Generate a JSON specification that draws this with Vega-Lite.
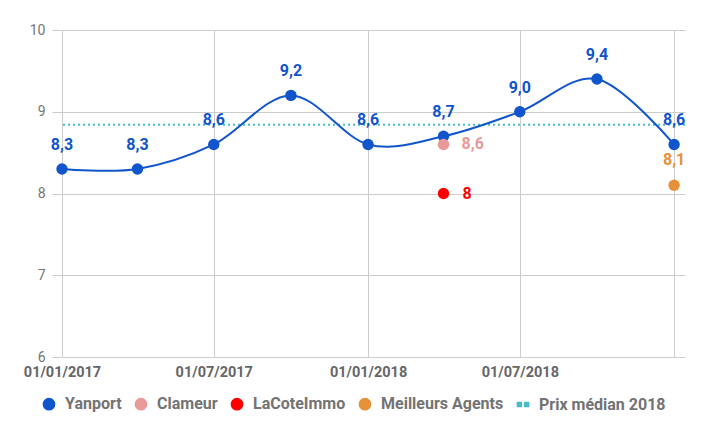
{
  "$schema": "https://vega.github.io/schema/vega-lite/v6.json",
  "width": 623,
  "height": 327,
  "autosize": "none",
  "padding": {"left": 62, "top": 30, "right": 21, "bottom": 79},
  "background": "white",
  "config": {
    "font": "Roboto",
    "view": {"stroke": null},
    "locale": {
      "number": {"decimal": ",", "thousands": " ", "grouping": [3], "currency": ["", " €"]}
    }
  },
  "datasets": {
    "serie": [
      {"date": "2017-01-01", "source": "Yanport", "valeur": 8.3},
      {"date": "2017-04-01", "source": "Yanport", "valeur": 8.3},
      {"date": "2017-07-01", "source": "Yanport", "valeur": 8.6},
      {"date": "2017-10-01", "source": "Yanport", "valeur": 9.2},
      {"date": "2018-01-01", "source": "Yanport", "valeur": 8.6},
      {"date": "2018-04-01", "source": "Yanport", "valeur": 8.7},
      {"date": "2018-07-01", "source": "Yanport", "valeur": 9.0},
      {"date": "2018-10-01", "source": "Yanport", "valeur": 9.4},
      {"date": "2019-01-01", "source": "Yanport", "valeur": 8.6},
      {"date": "2018-04-01", "source": "Clameur", "valeur": 8.6},
      {"date": "2018-04-01", "source": "LaCoteImmo", "valeur": 8.0},
      {"date": "2019-01-01", "source": "Meilleurs Agents", "valeur": 8.1}
    ],
    "median": [
      {"source": "Prix médian 2018", "valeur": 8.84}
    ]
  },
  "encoding": {
    "x": {
      "field": "date",
      "type": "temporal",
      "title": null,
      "scale": {
        "type": "utc",
        "domain": [
          {"year": 2017, "month": 1, "date": 1, "utc": true},
          {"year": 2019, "month": 1, "date": 14, "utc": true}
        ]
      },
      "axis": {
        "values": [
          {"year": 2017, "month": 1, "date": 1, "utc": true},
          {"year": 2017, "month": 7, "date": 1, "utc": true},
          {"year": 2018, "month": 1, "date": 1, "utc": true},
          {"year": 2018, "month": 7, "date": 1, "utc": true},
          {"year": 2019, "month": 1, "date": 1, "utc": true}
        ],
        "labelExpr": "datum.value > utc(2018, 10, 1) ? '' : utcFormat(datum.value, '%d/%m/%Y')",
        "grid": true,
        "gridColor": "#cccccc",
        "domain": false,
        "ticks": false,
        "labelPadding": 8,
        "labelFontSize": 14.5,
        "labelFontWeight": "bold",
        "labelColor": "#666666",
        "labelFlush": false
      }
    },
    "y": {
      "field": "valeur",
      "type": "quantitative",
      "title": null,
      "scale": {"domain": [6, 10], "nice": false, "zero": false},
      "axis": {
        "values": [6, 7, 8, 9, 10],
        "format": "d",
        "grid": true,
        "gridColor": "#cccccc",
        "domain": false,
        "ticks": true,
        "tickSize": 10,
        "tickColor": "#cccccc",
        "labelPadding": 7,
        "labelFontSize": 14,
        "labelColor": "#757575"
      }
    }
  },
  "layer": [
    {
      "data": {"name": "median"},
      "mark": {"type": "rule", "strokeDash": [2, 3], "strokeWidth": 2},
      "encoding": {
        "x": null,
        "color": {
          "field": "source",
          "type": "nominal",
          "scale": {
            "domain": ["Yanport", "Clameur", "LaCoteImmo", "Meilleurs Agents", "Prix médian 2018"],
            "range": ["#1155cc", "#ea9999", "#ff0000", "#e69138", "#46bdc6"]
          },
          "legend": {
            "title": null,
            "orient": "none",
            "legendX": -21,
            "legendY": 366,
            "padding": 0,
            "direction": "horizontal",
            "symbolType": "circle",
            "symbolSize": 125,
            "labelFontSize": 16,
            "labelFontWeight": "bold",
            "labelColor": "#737373",
            "labelOffset": 8,
            "columnPadding": 10,
            "encode": {
              "symbols": {
                "update": {
                  "shape": {"signal": "datum.value === 'Prix médian 2018' ? 'M-1,-0.35H-0.3V0.35H-1Z M0.3,-0.35H1V0.35H0.3Z' : 'circle'"},
                  "fill": {"scale": "color", "field": "value"},
                  "stroke": {"value": null},
                  "fillOpacity": {"value": 1}
                }
              }
            }
          }
        }
      }
    },
    {
      "data": {"name": "serie"},
      "transform": [{"filter": "datum.source === 'Yanport'"}],
      "mark": {"type": "line", "interpolate": "cardinal", "color": "#1155cc", "strokeWidth": 2}
    },
    {
      "data": {"name": "serie"},
      "mark": {"type": "circle", "size": 130, "opacity": 1},
      "encoding": {
        "color": {"field": "source", "type": "nominal"}
      }
    },
    {
      "data": {"name": "serie"},
      "transform": [{"filter": "datum.source === 'Yanport'"}],
      "mark": {"type": "text", "dy": -24, "fontSize": 16, "fontWeight": "bold", "color": "#1155cc", "baseline": "middle"},
      "encoding": {"text": {"field": "valeur", "type": "quantitative", "format": ".1f"}}
    },
    {
      "data": {"name": "serie"},
      "transform": [{"filter": "datum.source === 'Clameur'"}],
      "mark": {"type": "text", "dx": 18, "align": "left", "fontSize": 16, "fontWeight": "bold", "color": "#ea9999", "baseline": "middle"},
      "encoding": {"text": {"field": "valeur", "type": "quantitative", "format": ".1f"}}
    },
    {
      "data": {"name": "serie"},
      "transform": [{"filter": "datum.source === 'LaCoteImmo'"}],
      "mark": {"type": "text", "dx": 19, "align": "left", "fontSize": 16, "fontWeight": "bold", "color": "#ff0000", "baseline": "middle"},
      "encoding": {"text": {"field": "valeur", "type": "quantitative", "format": "d"}}
    },
    {
      "data": {"name": "serie"},
      "transform": [{"filter": "datum.source === 'Meilleurs Agents'"}],
      "mark": {"type": "text", "dy": -25, "fontSize": 16, "fontWeight": "bold", "color": "#e69138", "baseline": "middle"},
      "encoding": {"text": {"field": "valeur", "type": "quantitative", "format": ".1f"}}
    }
  ]
}
